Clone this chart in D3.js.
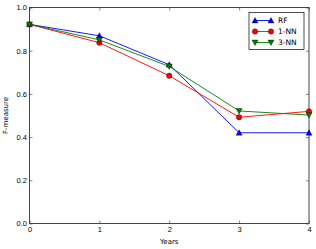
<!DOCTYPE html>
<html>
<head>
<meta charset="utf-8">
<script src="https://cdn.jsdelivr.net/npm/d3@7"></script>
<style>
  body { margin: 0; background: #fff; }
  svg { font-family: "DejaVu Sans", sans-serif; }
</style>
</head>
<body>
<svg width="316" height="249"></svg>
<script>
const years = [0, 1, 2, 3, 4];
const rf = [0.922, 0.869, 0.735, 0.42, 0.42];
const nn1 = [0.922, 0.837, 0.684, 0.492, 0.519];
const nn3 = [0.922, 0.85, 0.727, 0.521, 0.502];
const yTicks = [0.0, 0.2, 0.4, 0.6, 0.8, 1.0];

const margin = { left: 29.5, right: 7, top: 7.5, bottom: 25.5 };
const W = 316, H = 249;
const width = W - margin.left - margin.right;
const height = H - margin.top - margin.bottom;

const svg = d3.select("svg");
const g = svg.append("g").attr("transform", `translate(${margin.left},${margin.top})`);

const x = d3.scaleLinear().domain([0, 4]).range([0, width]);
const y = d3.scaleLinear().domain([0, 1]).range([height, 0]);

// ticks inward, on all four sides
const xAxis = d3.axisBottom(x).tickValues(years).tickFormat(d3.format("d")).tickSizeInner(-3).tickSizeOuter(0).tickPadding(3);
const yAxis = d3.axisLeft(y).tickValues(yTicks).tickFormat(d3.format(".1f")).tickSizeInner(-3).tickSizeOuter(0).tickPadding(2.5);

g.append("g").attr("transform", `translate(0,${height})`).call(xAxis);
g.append("g").call(yAxis);
g.append("g").call(d3.axisTop(x).tickValues(years).tickFormat("").tickSizeInner(-3).tickSizeOuter(0));
g.append("g").attr("transform", `translate(${width},0)`).call(d3.axisRight(y).tickValues(yTicks).tickFormat("").tickSizeInner(-3).tickSizeOuter(0));

g.selectAll(".domain").remove();
g.selectAll(".tick line").attr("stroke", "#333").attr("stroke-width", 0.6);
g.selectAll(".tick text").attr("font-size", 7.5).attr("fill", "#000");

g.append("rect").attr("width", width).attr("height", height)
  .attr("fill", "none").attr("stroke", "#333").attr("stroke-width", 0.9);

const line = d3.line().x((d, i) => x(years[i])).y(d => y(d));

const series = [
  { name: "RF", values: rf, color: "#0000ff", marker: "up" },
  { name: "1-NN", values: nn1, color: "#ff0000", marker: "circle" },
  { name: "3-NN", values: nn3, color: "#007f00", marker: "down" }
];

const markerPath = (type, cx, cy, r) => {
  if (type === "up") return `M${cx},${cy - r}L${cx + r},${cy + r * 0.8}L${cx - r},${cy + r * 0.8}Z`;
  if (type === "down") return `M${cx},${cy + r}L${cx + r},${cy - r * 0.8}L${cx - r},${cy - r * 0.8}Z`;
  return null;
};

const drawMarker = (sel, s, cx, cy) => {
  if (s.marker === "circle") {
    sel.append("circle").attr("cx", cx).attr("cy", cy).attr("r", 2.7)
      .attr("fill", s.color).attr("stroke", "#000").attr("stroke-width", 0.4);
  } else {
    sel.append("path").attr("d", markerPath(s.marker, cx, cy, 3))
      .attr("fill", s.color).attr("stroke", "#000").attr("stroke-width", 0.4);
  }
};

const clip = svg.append("clipPath").attr("id", "clip");
clip.append("rect").attr("x", -4).attr("y", -4).attr("width", width + 8).attr("height", height + 8);

const plot = g.append("g").attr("clip-path", "url(#clip)");
series.forEach(s => {
  plot.append("path").datum(s.values).attr("d", line)
    .attr("fill", "none").attr("stroke", s.color).attr("stroke-width", 0.9);
  s.values.forEach((v, i) => drawMarker(plot, s, x(years[i]), y(v)));
});

// axis labels
g.append("text").attr("x", width / 2).attr("y", height + 20)
  .attr("text-anchor", "middle").attr("font-size", 7).text("Years");
g.append("text").attr("transform", `translate(-21.5,${height / 2}) rotate(-90)`)
  .attr("text-anchor", "middle").attr("font-size", 7).text("F-measure");

// legend
const lg = svg.append("g").attr("transform", "translate(249,12.5)");
lg.append("rect").attr("width", 55).attr("height", 37)
  .attr("fill", "#fff").attr("stroke", "#000").attr("stroke-width", 0.7);
series.forEach((s, i) => {
  const ly = 8 + i * 11;
  lg.append("line").attr("x1", 6).attr("x2", 22).attr("y1", ly).attr("y2", ly)
    .attr("stroke", s.color).attr("stroke-width", 0.9);
  drawMarker(lg, s, 6, ly);
  drawMarker(lg, s, 22, ly);
  lg.append("text").attr("x", 29).attr("y", ly + 2.6).attr("font-size", 7.5).text(s.name);
});
</script>
</body>
</html>
